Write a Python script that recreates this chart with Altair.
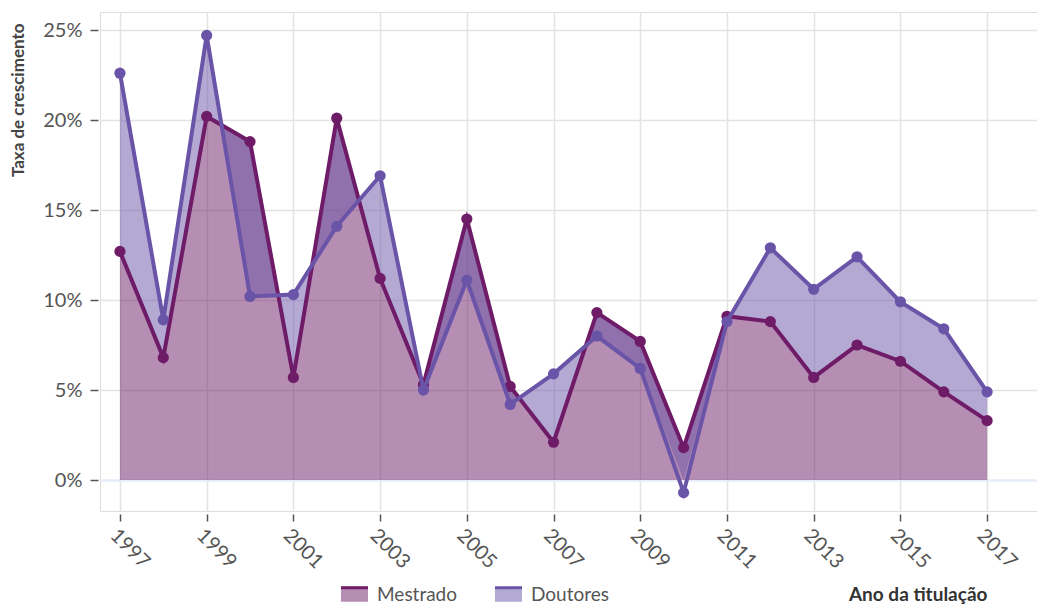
import altair as alt
import pandas as pd

years = list(range(1997, 2018))
mestrado = [12.7, 6.8, 20.2, 18.8, 5.7, 20.1, 11.2, 5.3, 14.5, 5.2, 2.1,
            9.3, 7.7, 1.8, 9.1, 8.8, 5.7, 7.5, 6.6, 4.9, 3.3]
doutores = [22.6, 8.9, 24.7, 10.2, 10.3, 14.1, 16.9, 5.0, 11.1, 4.2, 5.9,
            8.0, 6.2, -0.7, 8.8, 12.9, 10.6, 12.4, 9.9, 8.4, 4.9]
series = ["Mestrado", "Doutores"]
colors = ["#6e1b68", "#6a54a8"]
fills = ["rgba(110,27,104,0.5)", "rgba(106,84,168,0.5)"]
x_ticks = list(range(1997, 2018, 2))
y_ticks = [0, 5, 10, 15, 20, 25]

FONT = "Lato"

wide = pd.DataFrame({"Ano": years, "Mestrado": mestrado, "Doutores": doutores})
long = wide.melt("Ano", var_name="Serie", value_name="Taxa")

# filled bands: Mestrado from 0 up to its value, Doutores between the two lines
bands = pd.concat([
    pd.DataFrame({"Ano": years, "Serie": series[0],
                  "lo": [0.0] * len(years), "hi": mestrado}),
    pd.DataFrame({"Ano": years, "Serie": series[1],
                  "lo": mestrado, "hi": doutores}),
], ignore_index=True)

xscale = alt.Scale(domain=[1996.54, 2018.15], nice=False, zero=False)
yscale = alt.Scale(domain=[-1.72, 26.0], nice=False, zero=False)

x_axis = alt.Axis(
    values=x_ticks, format="d", labelAngle=45, title="Ano da titulação",
    domain=False, tickSize=7, offset=3, tickColor="#555", tickWidth=1.5,
    labelFontSize=20, labelColor="#555", labelPadding=4, labelFont=FONT,
    grid=True, gridColor="#e3e3e3", gridWidth=1.5,
    titleFont=FONT, titleFontSize=19, titleFontWeight="bold", titleColor="#333",
    titleAnchor="end", titleAlign="right", titleBaseline="middle",
    titleX=887, titleY=80,
)
y_axis = alt.Axis(
    values=y_ticks, labelExpr="datum.value + '%'", title="Taxa de crescimento",
    domain=False, tickSize=8, offset=2, tickColor="#555", tickWidth=1.5,
    labelFontSize=20, labelColor="#555", labelPadding=8, labelFont=FONT,
    grid=True,
    gridColor={"condition": {"test": "datum.value === 0", "value": "#e6ecfa"}, "value": "#e3e3e3"},
    gridWidth={"condition": {"test": "datum.value === 0", "value": 2.5}, "value": 1.5},
    titleFont=FONT, titleFontSize=17, titleFontWeight="bold", titleColor="#444",
    titleAngle=270, titleAlign="right", titleBaseline="middle",
    titleX=-80, titleY=11,
)

X = alt.X("Ano:Q", scale=xscale, axis=x_axis)

stroke_expr = f"datum.value === '{series[0]}' ? '{colors[0]}' : '{colors[1]}'"

area = alt.Chart(bands).transform_calculate(
    hi0="max(datum.hi, 0)"
).mark_area().encode(
    x=X,
    y=alt.Y("lo:Q", scale=yscale, axis=y_axis, stack=None),
    y2="hi0:Q",
    fill=alt.Fill(
        "Serie:N",
        scale=alt.Scale(domain=series, range=fills),
        legend=alt.Legend(
            orient="none", legendX=242, legendY=570, direction="horizontal",
            title=None,
            symbolType="M-1.25,-0.65L1.25,-0.65L1.25,0.65L-1.25,0.65Z",
            symbolSize=467, symbolStrokeWidth=3, symbolDash=[27, 400],
            symbolStrokeColor={"expr": stroke_expr}, symbolOpacity=1,
            labelFont=FONT, labelFontSize=19, labelColor="#555", labelOffset=10,
            columnPadding=30,
        ),
    ),
)

cscale = alt.Scale(domain=series, range=colors)

layers = [area]
for s in series:
    src = alt.Chart(long).transform_filter(alt.datum.Serie == s)
    layers.append(src.mark_line(strokeWidth=4).encode(
        x=X, y=alt.Y("Taxa:Q", scale=yscale),
        stroke=alt.Stroke("Serie:N", scale=cscale, legend=None)))
    layers.append(src.mark_circle(size=125, opacity=1).encode(
        x=X, y=alt.Y("Taxa:Q", scale=yscale),
        color=alt.Color("Serie:N", scale=cscale, legend=None)))

chart = alt.layer(*layers).properties(
    width=937, height=499,
    padding={"left": 1, "top": 4, "right": 0, "bottom": 0},
).configure_view(stroke=None).configure(font=FONT)

chart.save("out.html", embed_options={"renderer": "svg", "actions": False})
